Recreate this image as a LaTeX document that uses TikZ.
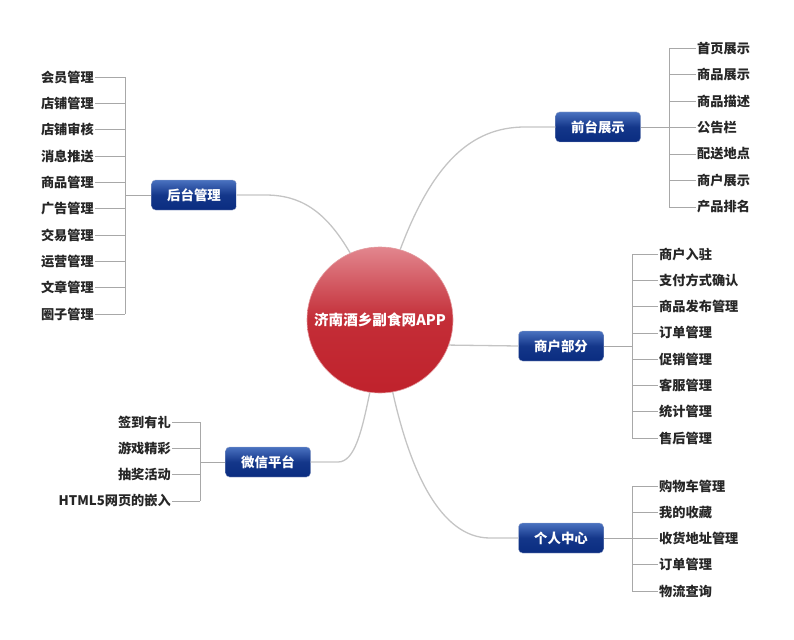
\documentclass[tikz,border=0pt]{standalone}
\usepackage{fontspec}
\setmainfont{Noto Sans CJK SC}
\usetikzlibrary{positioning}

\definecolor{boxtop}{HTML}{4A72C0}
\definecolor{boxbot}{HTML}{0A2C80}
\definecolor{redtop}{HTML}{E2868E}
\definecolor{redbot}{HTML}{C0222C}
\definecolor{linegray}{HTML}{C4C4C4}
\definecolor{tickgray}{HTML}{A8A8A8}

\tikzset{
  topic/.style={rounded corners=4pt,top color=boxtop,bottom color=boxbot,middle color=boxbot!85!boxtop,
    draw=boxbot!40!white,text=white,font=\bfseries\fontsize{13.4}{15}\selectfont,
    minimum width=85pt,minimum height=30pt,inner sep=0pt},
  leaf/.style={font=\bfseries\fontsize{13.2}{15}\selectfont,text=black!85,inner sep=1pt},
  link/.style={draw=linegray,line width=1.3pt},
  tick/.style={draw=tickgray,line width=0.8pt},
}

\begin{document}
\begin{tikzpicture}[x=1pt,y=-1pt]
				\useasboundingbox(0,0)rectangle(794,639);
				% centre
				\node[circle,minimum size=146pt,inner sep=0pt,top color=redtop,bottom color=redbot,middle color=redbot!95!white,
				  draw=redbot!45!white,line width=0.6pt,text=white,font=\bfseries\fontsize{14.6}{16}\selectfont](hub)at(380,320){济南酒乡副食网APP};
				% topics
				\node[topic](qt)at(598,127){前台展示};
				\node[topic](ht)at(194,195){后台管理};
				\node[topic](sh)at(561,346){商户部分};
				\node[topic](wx)at(268,462){微信平台};
				\node[topic](gr)at(561,538){个人中心};
				% links
				\draw[link](hub.74)..controls(432,165)and(470,127)..(525,127)--(qt.west);
				\draw[link](hub.114)..controls(325,210)and(300,195)..(265,195)--(ht.east);
				\draw[link](hub.-20)--(sh.west);
				\draw[link](hub.-98)..controls(362,430)and(355,462)..(338,462)--(wx.east);
				\draw[link](hub.-80)..controls(410,470)and(440,538)..(490,538)--(gr.west);
				% spines
				\coordinate(qts)at(669,127);
				\coordinate(hts)at(125,195);
				\coordinate(shs)at(632,346);
				\coordinate(wxs)at(200,462);
				\coordinate(grs)at(632,538);
				\draw[tick](qt.east)--(qts);
				\draw[tick](ht.west)--(hts);
				\draw[tick](sh.east)--(shs);
				\draw[tick](wx.west)--(wxs);
				\draw[tick](gr.east)--(grs);
				% leaves
				\foreach\t[count=\i]in{首页展示,商品展示,商品描述,公告栏,配送地点,商户展示,产品排名}{
				  \node[leaf,anchor=west](qt\i)at(696,48+26.5*\i-26.5){\t};
				  \draw[tick](qt\i.west)--(qt\i.west-|qts);}
				\draw[tick](qt1.west-|qts)--(qt7.west-|qts);
				\foreach\t[count=\i]in{会员管理,店铺管理,店铺审核,消息推送,商品管理,广告管理,交易管理,运营管理,文章管理,圈子管理}{
				  \node[leaf,anchor=east](ht\i)at(95,77+26.35*\i-26.35){\t};
				  \draw[tick](ht\i.east)--(ht\i.east-|hts);}
				\draw[tick](ht1.east-|hts)--(ht10.east-|hts);
				\foreach\t[count=\i]in{商户入驻,支付方式确认,商品发布管理,订单管理,促销管理,客服管理,统计管理,售后管理}{
				  \node[leaf,anchor=west](sh\i)at(658,254+26.3*\i-26.3){\t};
				  \draw[tick](sh\i.west)--(sh\i.west-|shs);}
				\draw[tick](sh1.west-|shs)--(sh8.west-|shs);
				\foreach\t[count=\i]in{签到有礼,游戏精彩,抽奖活动,HTML5网页的嵌入}{
				  \node[leaf,anchor=east](wx\i)at(172,422+26.3*\i-26.3){\t};
				  \draw[tick](wx\i.east)--(wx\i.east-|wxs);}
				\draw[tick](wx1.east-|wxs)--(wx4.east-|wxs);
				\foreach\t[count=\i]in{购物车管理,我的收藏,收货地址管理,订单管理,物流查询}{
				  \node[leaf,anchor=west](gr\i)at(658,486+26.25*\i-26.25){\t};
				  \draw[tick](gr\i.west)--(gr\i.west-|grs);}
				\draw[tick](gr1.west-|grs)--(gr5.west-|grs);
			\end{tikzpicture}
\end{document}
